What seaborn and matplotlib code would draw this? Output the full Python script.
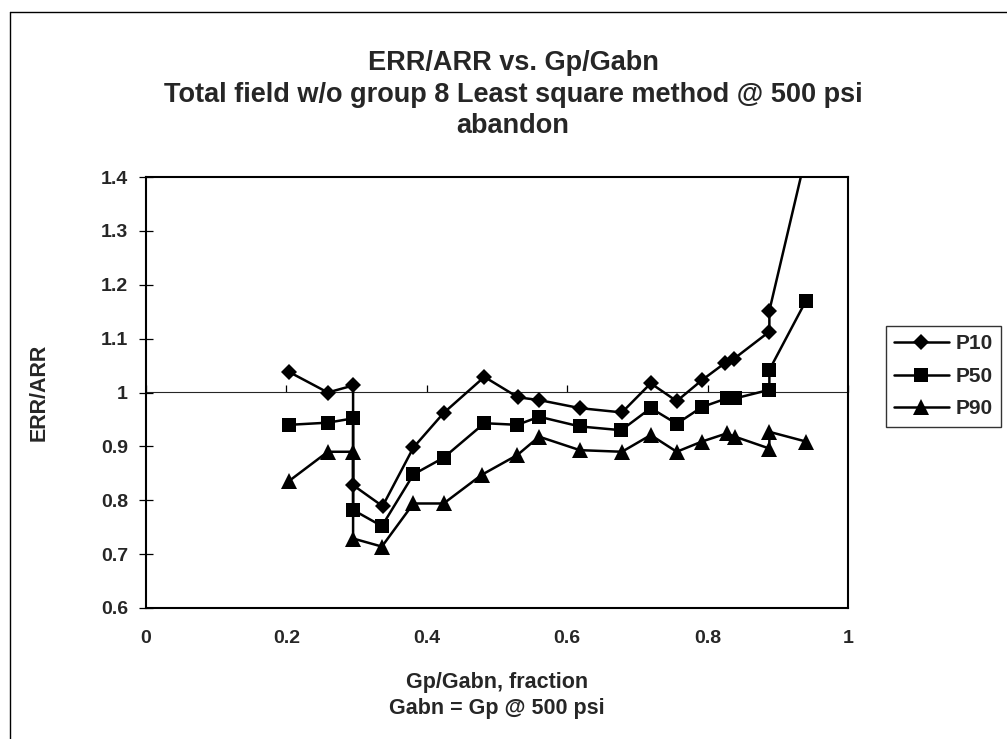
import numpy as np
import pandas as pd
import matplotlib
matplotlib.use("Agg")
import matplotlib.pyplot as plt
from matplotlib.lines import Line2D
import seaborn as sns

# values (x = Gp/Gabn, y = ERR/ARR)
p10_x = [0.204, 0.259, 0.295, 0.295, 0.337, 0.381, 0.424, 0.482, 0.530, 0.560, 0.618, 0.678,
         0.719, 0.756, 0.792, 0.825, 0.837, 0.888, 0.888, 0.940]
p10_y = [1.038, 1.000, 1.013, 0.828, 0.789, 0.898, 0.962, 1.029, 0.991, 0.986, 0.971, 0.963,
         1.017, 0.984, 1.023, 1.055, 1.062, 1.113, 1.152, 1.440]
p50_x = [0.204, 0.259, 0.295, 0.295, 0.336, 0.381, 0.424, 0.482, 0.529, 0.560, 0.618, 0.677,
         0.719, 0.756, 0.792, 0.827, 0.839, 0.888, 0.888, 0.940]
p50_y = [0.940, 0.944, 0.952, 0.782, 0.752, 0.848, 0.879, 0.943, 0.940, 0.955, 0.937, 0.930,
         0.971, 0.942, 0.973, 0.989, 0.989, 1.005, 1.042, 1.170]
p90_x = [0.204, 0.259, 0.295, 0.295, 0.336, 0.381, 0.424, 0.478, 0.529, 0.560, 0.618, 0.678,
         0.719, 0.756, 0.792, 0.827, 0.839, 0.888, 0.888, 0.940]
p90_y = [0.836, 0.890, 0.890, 0.729, 0.714, 0.794, 0.794, 0.847, 0.884, 0.918, 0.893, 0.890,
         0.921, 0.890, 0.909, 0.924, 0.918, 0.896, 0.927, 0.909]

series_names = ["P10", "P50", "P90"]
series_markers = ["D", "s", "^"]
series_msize = [8.5, 10, 11]
series = [(p10_x, p10_y), (p50_x, p50_y), (p90_x, p90_y)]

x_ticks = [0, 0.2, 0.4, 0.6, 0.8, 1]
x_ticklabels = ["0", "0.2", "0.4", "0.6", "0.8", "1"]
y_ticks = [0.6, 0.7, 0.8, 0.9, 1.0, 1.1, 1.2, 1.3, 1.4]
y_ticklabels = ["0.6", "0.7", "0.8", "0.9", "1", "1.1", "1.2", "1.3", "1.4"]

sns.set_style("white")
plt.rcParams["font.family"] = ["Liberation Sans", "DejaVu Sans"]
plt.rcParams["font.weight"] = "bold"

W, H = 1007, 739
fig = plt.figure(figsize=(W / 100, H / 100), dpi=100)
ax = fig.add_axes([146 / W, 1 - 608 / H, (848 - 146) / W, (608 - 177) / H])

for (xs, ys), name, mk, ms in zip(series, series_names, series_markers, series_msize):
    df = pd.DataFrame({"x": xs, "y": ys})
    sns.lineplot(data=df, x="x", y="y", sort=False, estimator=None, ax=ax,
                 color="black", linewidth=1.8, marker=mk, markersize=ms,
                 markeredgewidth=0, label=name)

ax.set_xlim(0, 1)
ax.set_ylim(0.6, 1.4)
ax.set_xticks(x_ticks)
ax.set_xticklabels(x_ticklabels)
ax.set_yticks(y_ticks)
ax.set_yticklabels(y_ticklabels)
ax.tick_params(axis="x", length=0, pad=16, labelsize=14)
ax.tick_params(axis="y", direction="inout", length=10, width=0.9, pad=8, labelsize=14,
               color="black", left=True)
for sp in ax.spines.values():
    sp.set_visible(True)
    sp.set_color("black")
    sp.set_linewidth(1.5)

# category axis crosses at y = 1 (Excel style)
cross = ax.secondary_xaxis((1.0 - 0.6) / (1.4 - 0.6))
cross.set_xticks(x_ticks)
cross.set_xticklabels([""] * len(x_ticks))
cross.tick_params(direction="out", length=5, width=0.9, color="black")
cross.spines["bottom"].set_linewidth(0.9)
cross.spines["bottom"].set_color("black")

ax.set_xlabel("Gp/Gabn, fraction\nGabn = Gp @ 500 psi", fontsize=15.5, fontweight="bold",
              linespacing=1.3)
ax.xaxis.set_label_coords(0.5, -0.148)
ax.set_ylabel("ERR/ARR", fontsize=15.5, fontweight="bold")
ax.yaxis.set_label_coords(-0.137, 0.5)

fig.text(513 / W, 1 - 50 / H,
         "ERR/ARR vs. Gp/Gabn\nTotal field w/o group 8 Least square method @ 500 psi\nabandon",
         ha="center", va="top", fontsize=19.5, fontweight="bold", linespacing=1.28)

ax.legend(loc="upper left", bbox_to_anchor=(886 / W, 1 - 326 / H),
          bbox_transform=fig.transFigure, borderaxespad=0, frameon=True,
          fancybox=False, edgecolor="black", fontsize=15, handlelength=2.6,
          handletextpad=0.35, labelspacing=0.65, borderpad=0.4)
leg = ax.get_legend()
leg.get_frame().set_linewidth(1.0)

# outer chart border (left and top edges visible in the scan)
fig.add_artist(Line2D([10 / W, 10 / W], [0, 1 - 12 / H], transform=fig.transFigure,
                      color="black", linewidth=1.0))
fig.add_artist(Line2D([10 / W, 1], [1 - 12 / H, 1 - 12 / H], transform=fig.transFigure,
                      color="black", linewidth=1.0))

fig.savefig("out.png", dpi=100)
